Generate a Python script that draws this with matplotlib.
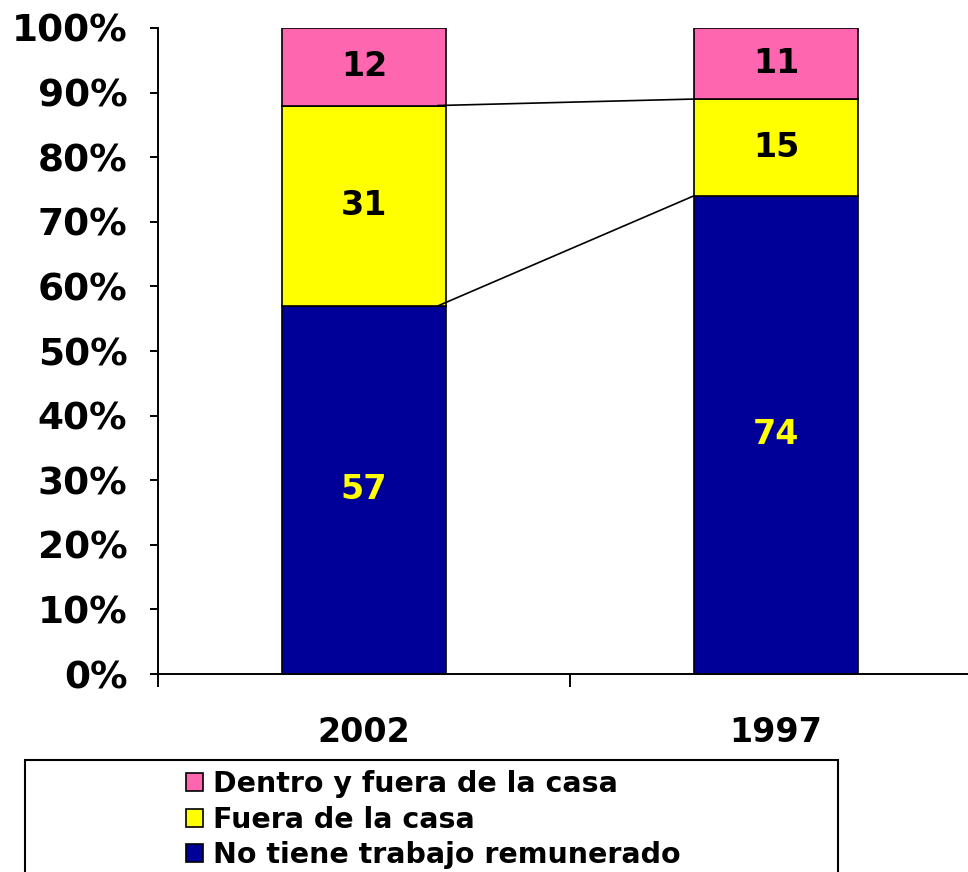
import numpy as np
import matplotlib.pyplot as plt
from matplotlib.patches import Rectangle
from matplotlib.ticker import FixedLocator, PercentFormatter

years = ["2002", "1997"]
series = ["No tiene trabajo remunerado", "Fuera de la casa", "Dentro y fuera de la casa"]
no_trabajo = [57, 74]
fuera = [31, 15]
dentro_fuera = [12, 11]
colors = ["#000099", "#FFFF00", "#FF66B0"]
label_colors = ["#FFFF00", "black", "black"]

plt.rcParams["font.family"] = "DejaVu Sans"
plt.rcParams["font.weight"] = "bold"

fig = plt.figure(figsize=(9.68, 8.72), dpi=100)
ax = fig.add_axes([158 / 968, 198 / 872, 824 / 968, 646 / 872])

data = np.array([no_trabajo, fuera, dentro_fuera], dtype=float)
pct = data / data.sum(axis=0) * 100
x = np.array([0.5, 1.5])
w = 0.4
bottom = np.zeros(2)
for vals, raw, name, c, tc in zip(pct, data, series, colors, label_colors):
    ax.bar(x, vals, w, bottom=bottom, color=c, edgecolor="black", linewidth=1.2, label=name)
    for xi, b, v, r in zip(x, bottom, vals, raw):
        ax.text(xi, b + v / 2, f"{int(r)}", ha="center", va="center",
                color=tc, fontsize=24, fontweight="bold")
    bottom = bottom + vals
    if bottom[0] < 99.9:
        ax.plot([x[0] + w / 2 - 0.02, x[1] - w / 2], [bottom[0], bottom[1]], color="black", lw=1.2)

ax.set_xlim(0, 2)
ax.set_ylim(0, 100)
ax.yaxis.set_major_locator(FixedLocator(np.arange(0, 101, 10)))
ax.yaxis.set_major_formatter(PercentFormatter(decimals=0))
ax.xaxis.set_major_locator(FixedLocator([0, 1, 2]))
ax.xaxis.set_major_formatter(plt.NullFormatter())
ax.xaxis.set_minor_locator(FixedLocator(x))
ax.set_xticklabels(years, minor=True)
ax.tick_params(axis="x", which="minor", length=0, pad=30, labelsize=24)
ax.tick_params(axis="x", which="major", length=9, width=1.4, direction="out")
ax.tick_params(axis="y", length=6, width=1.4, labelsize=27, pad=16)
for lab in ax.get_xticklabels(minor=True) + ax.get_yticklabels():
    lab.set_fontweight("bold")
for s in ["top", "right"]:
    ax.spines[s].set_visible(False)
for s in ["left", "bottom"]:
    ax.spines[s].set_linewidth(1.4)

fig.patches.append(Rectangle((25 / 968, -0.05), 813 / 968, (872 - 760) / 872 + 0.05,
                             transform=fig.transFigure, fill=False, edgecolor="black",
                             linewidth=1.5))
h, l = ax.get_legend_handles_labels()
leg = fig.legend(h[::-1], l[::-1], loc="upper left", bbox_to_anchor=(166 / 968, 1 - 750 / 872),
                 frameon=False, fontsize=20.5, handlelength=0.6, handleheight=0.6,
                 handletextpad=0.35, labelspacing=0.27, borderpad=0.2)
for t in leg.get_texts():
    t.set_fontweight("bold")

fig.savefig("out.png", dpi=100)
